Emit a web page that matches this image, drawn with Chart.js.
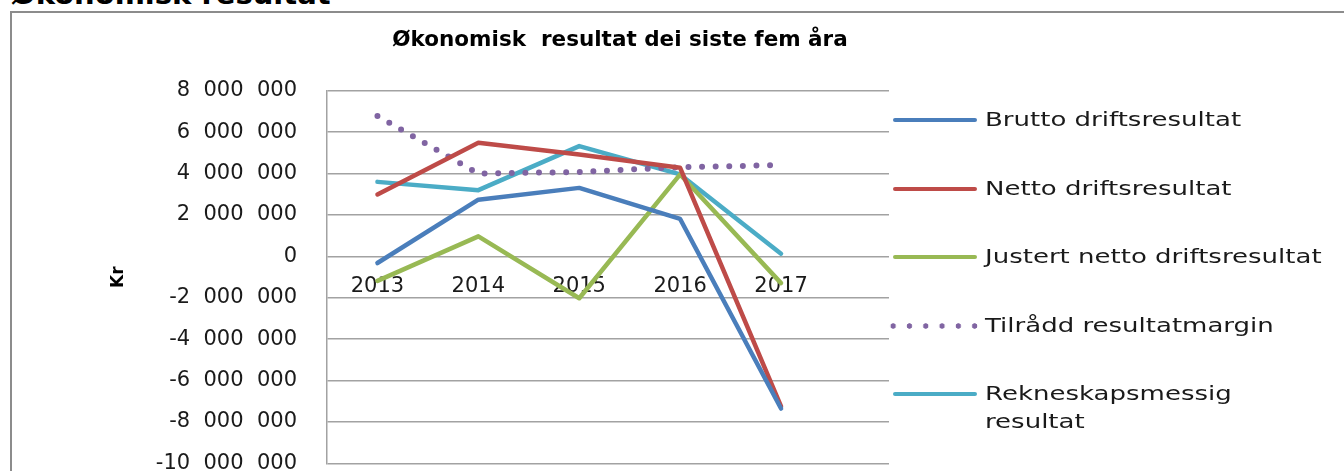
<!DOCTYPE html>
<html>
<head>
<meta charset="utf-8">
<script src="https://cdn.jsdelivr.net/npm/chart.js@4/dist/chart.umd.min.js"></script>
<style>
html,body{margin:0;padding:0;width:1344px;height:471px;overflow:hidden;background:#fff;}
#heading{position:absolute;left:11px;top:-20px;font:bold 29px/29px "DejaVu Sans",sans-serif;color:#000;white-space:nowrap;}
#frame{position:absolute;left:10px;top:11px;width:1400px;height:500px;border-left:2px solid #8c8c8c;border-top:2px solid #8c8c8c;}
#chart{position:absolute;left:0;top:0;}
.lg-sample{position:absolute;left:893px;width:84px;height:4px;border-radius:2px;}
.lg-dots{position:absolute;height:6px;}
.lg-text{position:absolute;left:985px;font:20px/27.4px "DejaVu Sans",sans-serif;color:#1a1a1a;white-space:nowrap;transform:scaleX(1.3);transform-origin:0 50%;}
</style>
</head>
<body>
<div id="heading">Økonomisk resultat</div>
<div id="frame"></div>
<canvas id="chart" width="1344" height="506"></canvas>
<div id="legend"></div>
<script>
const categories = ['2013', '2014', '2015', '2016', '2017'];
const brutto      = [-320000, 2740000, 3310000, 1810000, -7350000];
const netto       = [2990000, 5490000, 4920000, 4280000, -7250000];
const justert     = [-1180000, 970000, -2020000, 3960000, -1290000];
const tilradd     = [6780000, 4000000, 4080000, 4310000, 4410000];
const rekneskap   = [3600000, 3200000, 5330000, 3960000, 130000];
const yTicks      = [-10000000, -8000000, -6000000, -4000000, -2000000, 0, 2000000, 4000000, 6000000, 8000000];

const seriesNames = ['Brutto driftsresultat', 'Netto driftsresultat', 'Justert netto driftsresultat', 'Tilrådd resultatmargin', ['Rekneskapsmessig', 'resultat']];
const colors = ['#4a7ebb', '#be4b48', '#98b954', '#8064a2', '#4bacc6'];

function fmt(v) {
  const s = Math.abs(v).toString().replace(/\B(?=(\d{3})+(?!\d))/g, '\u2007');
  return (v < 0 ? '-' : '') + s;
}

function mk(i, data, dotted) {
  return {
    label: seriesNames[i],
    data: data,
    borderColor: colors[i],
    backgroundColor: colors[i],
    borderWidth: dotted ? 6 : 4.5,
    borderDash: dotted ? [0, 13.6] : [],
    borderCapStyle: 'round',
    borderJoinStyle: 'round',
    pointRadius: 0,
    pointHoverRadius: 0,
    tension: 0,
    fill: false,
    yAxisID: 'y',
    xAxisID: 'x'
  };
}

const tickFont = {family: 'DejaVu Sans', size: 21};

const chart = new Chart(document.getElementById('chart'), {
  type: 'line',
  data: {
    labels: categories,
    datasets: [
      mk(0, brutto, false),
      mk(1, netto, false),
      mk(2, justert, false),
      mk(3, tilradd, true),
      mk(4, rekneskap, false)
    ]
  },
  options: {
    responsive: false,
    animation: false,
    devicePixelRatio: 1,
    layout: {padding: {left: 0, right: 104, top: 0, bottom: 27}},
    plugins: {
      legend: {display: false},
      tooltip: {enabled: false},
      title: {
        display: true,
        text: 'Økonomisk  resultat dei siste fem åra',
        color: '#000',
        font: {family: 'DejaVu Sans', size: 21.5, weight: 'bold'},
        padding: {top: 28, bottom: 37}
      }
    },
    scales: {
      x: {
        type: 'linear',
        position: {y: 0},
        min: 2012.5,
        max: 2018.07,
        grid: {display: false, drawTicks: false},
        border: {display: false},
        afterBuildTicks: s => { s.ticks = categories.map(c => ({value: Number(c)})); },
        ticks: {
          autoSkip: false,
          maxRotation: 0,
          padding: 18,
          color: '#1a1a1a',
          font: tickFont,
          callback: v => String(v)
        }
      },
      y: {
        type: 'linear',
        position: 'left',
        min: yTicks[0],
        max: yTicks[yTicks.length - 1],
        afterBuildTicks: s => { s.ticks = yTicks.map(v => ({value: v})); },
        afterFit: s => { s.width = 327; },
        grid: {color: '#a2a2a2', lineWidth: 1.5, drawTicks: false},
        border: {display: true, color: '#a2a2a2', width: 1.5},
        ticks: {padding: 30, color: '#1a1a1a', font: tickFont, callback: v => fmt(v)},
        title: {
          display: true,
          text: 'Kr',
          color: '#000',
          font: {family: 'DejaVu Sans', size: 17, weight: 'bold'},
          padding: {top: 108, bottom: 0}
        }
      },
      y2: {
        type: 'linear',
        position: 'right',
        display: true,
        grid: {display: false, drawTicks: false},
        border: {display: false},
        ticks: {display: false},
        afterFit: s => { s.width = 351; }
      }
    }
  }
});

// HTML legend built from the chart's datasets
(function buildLegend() {
  const host = document.getElementById('legend');
  const firstY = 120, step = 68.5;
  chart.data.datasets.forEach((ds, i) => {
    const cy = firstY + i * step;
    if (ds.borderDash && ds.borderDash.length) {
      const d = document.createElement('div');
      d.className = 'lg-dots';
      d.style.top = (cy - 3) + 'px';
      d.style.left = (892.7 - 8.15) + 'px';
      d.style.width = (16.3 * 6) + 'px';
      d.style.background = 'radial-gradient(circle, ' + ds.borderColor + ' 2.4px, rgba(255,255,255,0) 3px) 0 0 / 16.3px 6px repeat-x';
      host.appendChild(d);
    } else {
      const s = document.createElement('div');
      s.className = 'lg-sample';
      s.style.top = (cy - 2) + 'px';
      s.style.background = ds.borderColor;
      host.appendChild(s);
    }
    const t = document.createElement('div');
    t.className = 'lg-text';
    t.style.top = (cy - 13.7) + 'px';
    const lines = Array.isArray(ds.label) ? ds.label : [ds.label];
    lines.forEach((ln, k) => {
      if (k) t.appendChild(document.createElement('br'));
      t.appendChild(document.createTextNode(ln));
    });
    host.appendChild(t);
  });
})();
</script>
</body>
</html>
